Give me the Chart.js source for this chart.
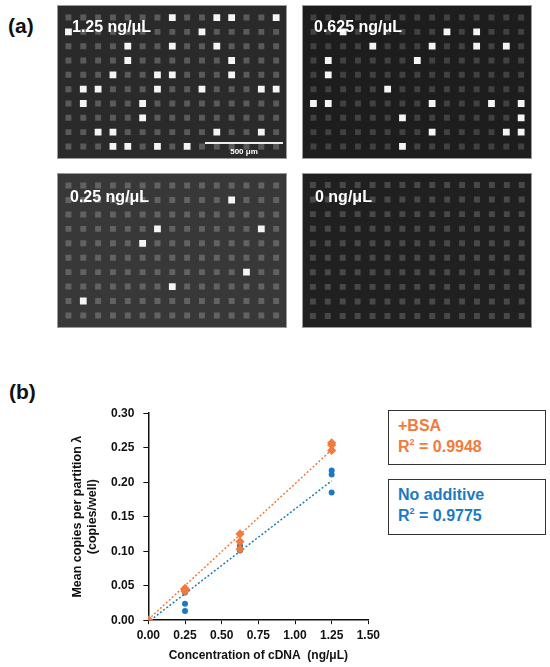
<!DOCTYPE html>
<html>
<head>
<meta charset="utf-8">
<script src="https://cdn.jsdelivr.net/npm/chart.js@4.4.0/dist/chart.umd.min.js"></script>
<style>
  body { margin: 0; background: #fff; font-family: "Liberation Sans", Arial, sans-serif; }
  #page { position: relative; width: 550px; height: 667px; overflow: hidden; }
  .abs { position: absolute; }
  .panel { position: absolute; border: 1px solid #9a9a9a; box-sizing: border-box; }
  .plabel { position: absolute; color: #fff; font-weight: bold; font-size: 16px; line-height: 1; white-space: nowrap; }
  .tag { position: absolute; font-weight: bold; font-size: 21px; line-height: 1; color: #111; }
  .box { position: absolute; border: 1.5px solid #333; box-sizing: border-box; font-weight: bold; font-size: 16px; line-height: 21px; padding: 4px 0 0 9px; }
  .box sup { font-size: 9px; vertical-align: 7px; line-height: 0; }
</style>
</head>
<body>
<div id="page">
  <div class="tag" style="left:8px;top:15px;">(a)</div>
  <div class="tag" style="left:9px;top:381px;">(b)</div>

  <div class="panel" id="p1" style="left:57px;top:5px;width:230px;height:154px;background:#2a2a2a;"><canvas id="c1"></canvas></div>
  <div class="panel" id="p2" style="left:302px;top:5px;width:230px;height:154px;background:#1d1d1d;"><canvas id="c2"></canvas></div>
  <div class="panel" id="p3" style="left:57px;top:173px;width:230px;height:155px;background:#383838;"><canvas id="c3"></canvas></div>
  <div class="panel" id="p4" style="left:302px;top:173px;width:230px;height:155px;background:#202020;"><canvas id="c4"></canvas></div>

  <div class="plabel" style="left:72px;top:19px;">1.25 ng/μL</div>
  <div class="plabel" style="left:314px;top:19px;">0.625 ng/μL</div>
  <div class="plabel" style="left:70px;top:189px;">0.25 ng/μL</div>
  <div class="plabel" style="left:315px;top:189px;">0 ng/μL</div>

  <div class="abs" style="left:205px;top:142px;width:78px;height:1.5px;background:#eee;"></div>
  <div class="abs" style="left:205px;top:147px;width:78px;text-align:center;color:#fff;font-size:8px;font-weight:bold;">500 μm</div>

  <div class="abs" style="left:68px;top:397px;width:316px;height:266px;"><canvas id="chart"></canvas></div>

  <div class="box" style="left:388px;top:410px;width:158px;height:55px;color:#F47A3C;">+BSA<br>R<sup>2</sup> = 0.9948</div>
  <div class="box" style="left:388px;top:479px;width:158px;height:56px;color:#1C7AC4;">No additive<br>R<sup>2</sup> = 0.9775</div>
</div>

<script>
// well grid of each image
const cols = [0, 1, 2, 3, 4, 5, 6, 7, 8, 9, 10, 11, 12, 13, 14];
const rows = [0, 1, 2, 3, 4, 5, 6, 7, 8, 9];

// bright (positive) wells, [col, row]
const bright125 = [[7,0],[10,0],[11,0],[14,0],[0,1],[9,1],[4,2],[7,2],[10,2],[4,3],[11,3],
  [3,4],[6,4],[7,4],[11,4],[1,5],[2,5],[6,5],[9,5],[13,5],[14,5],[1,6],[5,6],[5,7],
  [2,8],[3,8],[10,8],[13,8],[3,9],[4,9],[6,9],[8,9]];
const bright0625 = [[2,1],[9,1],[11,1],[4,2],[8,2],[11,2],[13,2],[1,3],[7,3],[1,4],[5,5],
  [0,6],[1,6],[8,6],[12,6],[14,6],[6,7],[14,7],[8,8],[13,8],[14,8],[6,9]];
const bright025 = [[11,1],[6,3],[13,3],[5,4],[12,6],[7,7],[1,8]];
const bright0 = [];

// (b) data
const bsaX = [0, 0, 0, 0.25, 0.25, 0.25, 0.625, 0.625, 0.625, 1.25, 1.25, 1.25];
const bsaY = [0, 0, 0, 0.046, 0.044, 0.042, 0.125, 0.114, 0.103, 0.257, 0.254, 0.246];
const noAddX = [0, 0, 0, 0.25, 0.25, 0.25, 0.625, 0.625, 0.625, 1.25, 1.25, 1.25];
const noAddY = [0, 0, 0, 0.040, 0.024, 0.0135, 0.108, 0.104, 0.101, 0.217, 0.211, 0.185];
const bsaTrendX = [0, 1.25];
const bsaTrendY = [0.001, 0.247];
const noAddTrendX = [0.015, 1.25];
const noAddTrendY = [0, 0.202];

const xTicks = [0, 0.25, 0.5, 0.75, 1.0, 1.25, 1.5];
const yTicks = [0, 0.05, 0.10, 0.15, 0.20, 0.25, 0.30];

const ORANGE = '#F47A3C';
const BLUE = '#1C7AC4';

function wellChart(id, bright, dimColor) {
  let dim = [];
  for (const r of rows) {
    for (const c of cols) {
      if (!bright.some(b => b[0] == c && b[1] == r)) dim.push({x: c, y: r});
    }
  }
  let lit = bright.map(b => ({x: b[0], y: b[1]}));
  return new Chart(document.getElementById(id), {
    type: 'scatter',
    data: {
      datasets: [
        { data: lit, pointStyle: 'rect', pointRadius: 4.8, backgroundColor: '#f4f4f4', borderWidth: 0 },
        { data: dim, pointStyle: 'rect', pointRadius: 4.2, backgroundColor: dimColor, borderWidth: 0 }
      ]
    },
    options: {
      responsive: true,
      maintainAspectRatio: false,
      animation: false,
      events: [],
      layout: { padding: 0 },
      plugins: { legend: { display: false }, tooltip: { enabled: false } },
      scales: {
        x: { display: false, min: -0.38, max: 14.34 },
        y: { display: false, min: -0.47, max: 9.47, reverse: true }
      }
    }
  });
}

wellChart('c1', bright125, '#5a5a5a');
wellChart('c2', bright0625, '#414141');
wellChart('c3', bright025, '#626262');
wellChart('c4', bright0, '#484848');

const pts = (xs, ys) => xs.map((x, i) => ({x: x, y: ys[i]}));
const tickFont = { family: 'Liberation Sans', size: 12, weight: 'bold' };

const myChart = new Chart(document.getElementById('chart'), {
  type: 'scatter',
  data: {
    datasets: [
      {
        label: '+BSA',
        data: pts(bsaX, bsaY),
        pointStyle: 'rectRot',
        pointRadius: 4.6,
        backgroundColor: ORANGE,
        borderWidth: 0
      },
      {
        label: 'No additive',
        data: pts(noAddX, noAddY),
        pointStyle: 'circle',
        pointRadius: 3,
        backgroundColor: BLUE,
        borderWidth: 0
      },
      {
        label: 'BSA trend',
        type: 'line',
        data: pts(bsaTrendX, bsaTrendY),
        borderColor: ORANGE,
        borderWidth: 1.5,
        borderDash: [2, 2],
        pointRadius: 0,
        fill: false
      },
      {
        label: 'No additive trend',
        type: 'line',
        data: pts(noAddTrendX, noAddTrendY),
        borderColor: '#1E7DB0',
        borderWidth: 1.5,
        borderDash: [2, 2],
        pointRadius: 0,
        fill: false
      }
    ]
  },
  options: {
    responsive: true,
    maintainAspectRatio: false,
    animation: false,
    layout: { padding: { top: 6, right: 0, left: 0, bottom: 0 } },
    plugins: { legend: { display: false }, tooltip: { enabled: false } },
    scales: {
      x: {
        type: 'linear',
        min: 0, max: 1.5,
        afterBuildTicks: axis => { axis.ticks = xTicks.map(v => ({value: v})); },
        ticks: { color: '#111', font: tickFont, padding: 4, maxRotation: 0,
          callback: v => v.toFixed(2) },
        grid: { drawOnChartArea: false, drawTicks: true, tickLength: 4, color: '#111' },
        border: { color: '#111', width: 1.5 },
        title: { display: true, text: 'Concentration of cDNA  (ng/μL)', color: '#111',
          font: tickFont, padding: { top: 2, bottom: 0 } }
      },
      y: {
        min: 0, max: 0.30,
        afterBuildTicks: axis => { axis.ticks = yTicks.map(v => ({value: v})); },
        ticks: { color: '#111', font: tickFont, padding: 9,
          callback: v => v.toFixed(2) },
        grid: { drawOnChartArea: false, drawTicks: true, tickLength: 5, color: '#111' },
        border: { color: '#111', width: 1.5 },
        title: { display: true, text: ['Mean copies per partition λ', '(copies/well)'], color: '#111',
          font: { family: 'Liberation Sans', size: 12.5, weight: 'bold' }, padding: { top: 2, bottom: 2 } }
      }
    }
  }
});
</script>
</body>
</html>
